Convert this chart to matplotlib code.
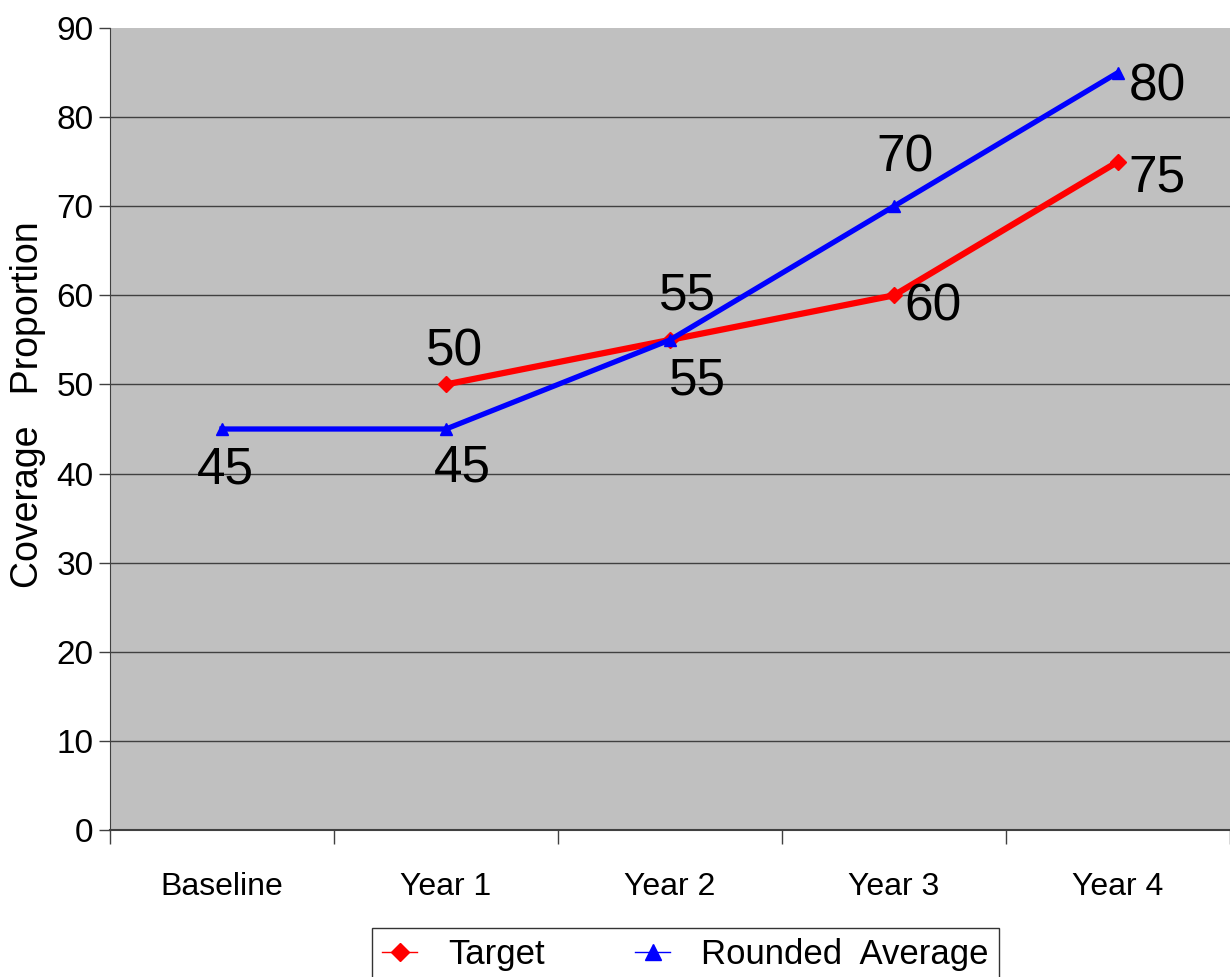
import numpy as np
import matplotlib
matplotlib.use('Agg')
import matplotlib.pyplot as plt
from matplotlib.ticker import FixedLocator
from matplotlib.lines import Line2D

plt.rcParams['font.family'] = ['Liberation Sans', 'DejaVu Sans']

categories = ['Baseline', 'Year 1', 'Year 2', 'Year 3', 'Year 4']
target = [np.nan, 50, 55, 60, 75]
rounded_avg = [45, 45, 55, 70, 85]
# labels as printed on the chart (last blue point is labelled 80)
target_labels = [None, '50', '55', '60', '75']
rounded_labels = ['45', '45', '55', '70', '80']

# label offsets in pixels (dx, dy)
target_off = [None, (9, 32), (27, -41), (39, -12), (39, -16)]
rounded_off = [(3, -41), (16, -39), (17, 44), (11, 48), (39, -14)]

fig = plt.figure(figsize=(12.3, 9.77), dpi=100)
ax = fig.add_axes([110 / 1230, 1 - 830 / 977, 1120 / 1230, 802 / 977])
ax.set_facecolor('#c0c0c0')

x = np.arange(len(categories))
ax.plot(x, target, color='#ff0000', lw=4.5, marker='D', ms=8, zorder=3)
ax.plot(x, rounded_avg, color='#0000ff', lw=3.8, marker='^', ms=9, zorder=4)

for i in range(len(categories)):
    if target_labels[i] is not None:
        ax.annotate(target_labels[i], (x[i], target[i]), xytext=target_off[i],
                    textcoords='offset pixels', ha='center', va='center', fontsize=37)
    ax.annotate(rounded_labels[i], (x[i], rounded_avg[i]), xytext=rounded_off[i],
                textcoords='offset pixels', ha='center', va='center', fontsize=37)

ax.set_xlim(-0.5, 4.5)
ax.set_ylim(0, 90)
ax.set_yticks(np.arange(0, 91, 10))
ax.tick_params(axis='y', labelsize=24, length=8, width=1, color='#404040', pad=4)
ax.yaxis.grid(True, color='#404040', lw=1)
ax.yaxis.get_gridlines()[-1].set_visible(False)
ax.set_axisbelow(True)

ax.set_xticks(x)
ax.set_xticklabels(categories, fontsize=23)
ax.tick_params(axis='x', which='major', length=0, pad=30)
ax.xaxis.set_minor_locator(FixedLocator(np.arange(-0.5, 5, 1)))
ax.tick_params(axis='x', which='minor', length=10, width=1, color='#404040')

for s in ['top', 'right']:
    ax.spines[s].set_visible(False)
ax.spines['left'].set_color('#404040')
ax.spines['bottom'].set_color('#404040')
ax.spines['bottom'].set_linewidth(1.5)

fig.text(28 / 1230, 1 - 405 / 977, 'Coverage   Proportion', rotation=90,
         ha='center', va='center', fontsize=27)

handles = [Line2D([], [], color='#ff0000', lw=1, marker='D', ms=9),
           Line2D([], [], color='#0000ff', lw=1, marker='^', ms=11)]
leg = fig.legend(handles, ['Target', 'Rounded  Average'], loc='upper left',
                 bbox_to_anchor=(372 / 1230, 1 - 928 / 977),
                 ncol=2, fontsize=25, frameon=True, fancybox=False,
                 edgecolor='black', handlelength=1.0, columnspacing=2.6,
                 handletextpad=0.9, borderpad=0.3, borderaxespad=0)
leg.get_frame().set_linewidth(1)

fig.savefig('out.png', dpi=100)
